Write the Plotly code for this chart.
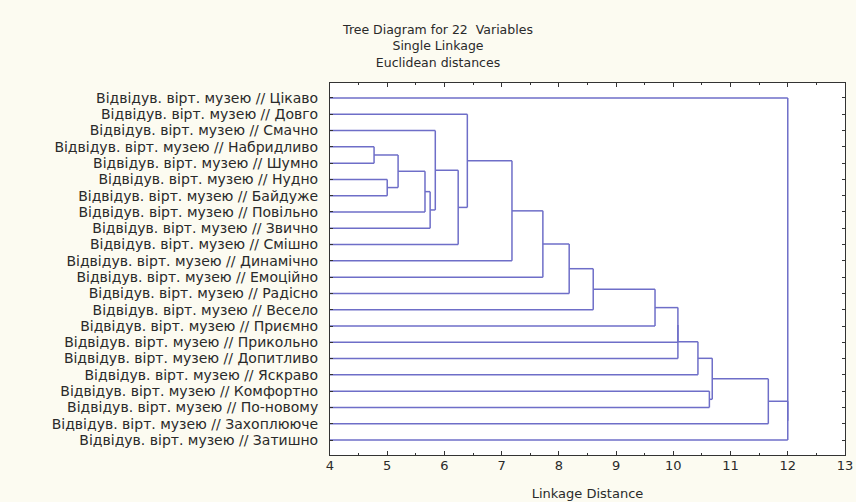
import plotly.graph_objects as go

# ---- data -------------------------------------------------------------
prefix = "Відвідув. вірт. музею // "
leaves = ["Цікаво", "Довго", "Смачно", "Набридливо", "Шумно", "Нудно", "Байдуже",
          "Повільно", "Звично", "Смішно", "Динамічно", "Емоційно", "Радісно",
          "Весело", "Приємно", "Прикольно", "Допитливо", "Яскраво", "Комфортно",
          "По-новому", "Захоплююче", "Затишно"]

# merges: (left, right, linkage distance); clusters named C1, C2, ...
merge_left = ["Набридливо", "Нудно", "C1", "C3", "C4", "Смачно", "C6", "Довго",
              "C8", "C9", "C10", "C11", "C12", "C13", "C14", "C15", "Комфортно",
              "C16", "C18", "C19", "Цікаво"]
merge_right = ["Шумно", "Байдуже", "C2", "Повільно", "Звично", "C5", "Смішно", "C7",
               "Динамічно", "Емоційно", "Радісно", "Весело", "Приємно", "Прикольно",
               "Допитливо", "Яскраво", "По-новому", "C17", "Захоплююче", "Затишно", "C20"]
merge_dist = [4.77, 5.00, 5.19, 5.66, 5.75, 5.84, 6.24, 6.40, 7.18, 7.72, 8.18,
              8.60, 9.68, 10.08, 10.08, 10.43, 10.63, 10.68, 11.66, 12.00, 12.00]

x_ticks = [4, 5, 6, 7, 8, 9, 10, 11, 12, 13]
X_MIN, X_MAX = 4, 13

# ---- build dendrogram segments ----------------------------------------
pos = {name: (X_MIN, i) for i, name in enumerate(leaves)}  # (height, y)
xs, ys = [], []
for k, (a, b, d) in enumerate(zip(merge_left, merge_right, merge_dist), start=1):
    ha, ya = pos[a]
    hb, yb = pos[b]
    xs += [ha, d, None, hb, d, None, d, d, None]
    ys += [ya, ya, None, yb, yb, None, ya, yb, None]
    pos["C%d" % k] = (d, (ya + yb) / 2)

fig = go.Figure()
fig.add_trace(go.Scatter(x=xs, y=ys, mode="lines",
                         line=dict(color="#6e6ec8", width=1.5),
                         hoverinfo="skip", showlegend=False))

n = len(leaves)
fig.update_layout(
    width=856, height=502,
    paper_bgcolor="#fcfbf1", plot_bgcolor="#ffffff",
    margin=dict(l=330, r=11, t=83, b=47),
    font=dict(family="DejaVu Sans, Arial", size=12, color="#2a2a2a"),
    title=dict(text="Tree Diagram for 22  Variables<br>Single Linkage<br>Euclidean distances",
               x=438 / 856, xref="container", xanchor="center",
               y=1 - 34 / 502, yref="container", yanchor="top",
               font=dict(family="DejaVu Sans, Arial", size=12.5, color="#2a2a2a")),
    xaxis=dict(range=[X_MIN, X_MAX], tickvals=x_ticks, ticktext=[str(v) for v in x_ticks],
               showgrid=False, zeroline=False, showline=True, linecolor="#333333",
               linewidth=1, mirror="ticks", ticks="inside", ticklen=4,
               tickcolor="#333333", automargin=False,
               minor=dict(dtick=0.5, ticks="inside", ticklen=2, tickcolor="#333333"),
               title=dict(text="Linkage Distance", standoff=17,
                          font=dict(size=13)),
               tickfont=dict(size=13), ticklabelstandoff=-2),
    yaxis=dict(range=[n - 1 + 0.92, -0.92], tickvals=list(range(n)),
               ticktext=[prefix + s for s in leaves], automargin=False,
               showgrid=False, zeroline=False, showline=True, linecolor="#333333",
               linewidth=1, mirror="ticks", ticks="inside", ticklen=3,
               tickcolor="#333333", tickfont=dict(size=14),
               ticklabelstandoff=8),
)

fig.write_html("out.html", config={"displayModeBar": False},
               post_script="document.body.style.margin='0';document.body.style.padding='0';")
